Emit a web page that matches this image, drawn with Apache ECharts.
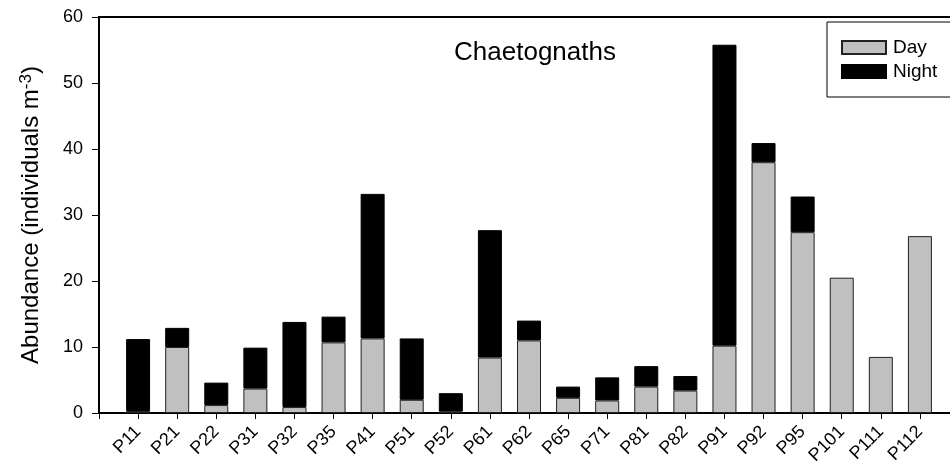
<!DOCTYPE html>
<html>
<head>
<meta charset="utf-8">
<script src="https://cdn.jsdelivr.net/npm/echarts@6/dist/echarts.min.js"></script>
<style>
html,body{margin:0;padding:0;background:#fff;}
#chart{width:950px;height:461px;}
</style>
</head>
<body>
<div id="chart"></div>
<script>
// Data
var categories = ['P11','P21','P22','P31','P32','P35','P41','P51','P52','P61','P62','P65','P71','P81','P82','P91','P92','P95','P101','P111','P112'];
var dayValues   = [0.3, 10.0, 1.2, 3.7, 0.9, 10.7, 11.3, 2.0, 0.2, 8.4, 11.0, 2.3, 1.9, 4.0, 3.4, 10.2, 38.0, 27.4, 20.5, 8.5, 26.8];
var nightValues = [10.9, 2.9, 3.4, 6.2, 12.9, 3.9, 21.9, 9.3, 2.8, 19.3, 3.0, 1.7, 3.5, 3.1, 2.2, 45.6, 2.9, 5.4, null, null, null];
var yTicks = [0, 10, 20, 30, 40, 50, 60];

var FONT = 'Liberation Sans, Arial, sans-serif';
var chart = echarts.init(document.getElementById('chart'), null, {renderer: 'canvas'});

// empty slots at both ends so categories sit at x = 1..21 of a 0..22 axis
var axisCats = [''].concat(categories, ['']);
function padded(arr) {
  return [null].concat(arr.map(function (v) { return v == null ? '-' : v; }), [null]);
}

var option = {
  animation: false,
  backgroundColor: '#fff',
  textStyle: {fontFamily: FONT},
  title: {
    text: 'Chaetognaths',
    left: 530, top: 35, textAlign: 'center',
    textStyle: {fontFamily: FONT, fontSize: 26, fontWeight: 'normal', color: '#000'}
  },
  legend: {
    orient: 'vertical',
    left: 827, top: 22,
    padding: [16, 60, 16, 14],
    itemWidth: 44, itemHeight: 13, itemGap: 5,
    icon: 'rect',
    borderColor: '#000', borderWidth: 1,
    textStyle: {fontFamily: FONT, fontSize: 19, lineHeight: 19, color: '#000', padding: [0, 0, 0, 2]},
    data: ['Day', 'Night']
  },
  grid: {
    left: 99, top: 17, width: 860, height: 396,
    outerBoundsMode: 'none',
    show: true, borderColor: '#000', borderWidth: 2, containLabel: false
  },
  xAxis: {
    type: 'category', data: axisCats, boundaryGap: false,
    splitLine: {show: false},
    axisLine: {lineStyle: {color: '#000', width: 2}},
    axisTick: {length: 6, interval: 0, lineStyle: {color: '#000', width: 1}},
    axisLabel: {
      rotate: 45, margin: 16, interval: 0, fontFamily: FONT, fontSize: 18, color: '#000'
    }
  },
  yAxis: {
    type: 'value', min: yTicks[0], max: yTicks[yTicks.length - 1], interval: 10,
    splitLine: {show: false},
    axisLine: {show: true, lineStyle: {color: '#000', width: 2}},
    axisTick: {show: true, length: 7, lineStyle: {color: '#000', width: 1}},
    axisLabel: {margin: 16, fontFamily: FONT, fontSize: 18, color: '#000'},
    name: 'Abundance (individuals m{sup|-3})',
    nameLocation: 'middle', nameGap: 54, nameRotate: 90,
    nameTextStyle: {
      fontFamily: FONT, fontSize: 24, color: '#000',
      rich: {sup: {fontFamily: FONT, fontSize: 17, color: '#000', verticalAlign: 'top', padding: [0,0,10,0]}}
    }
  },
  series: [
    {
      name: 'Day', type: 'bar', stack: 'tot', barWidth: 24,
      data: padded(dayValues),
      itemStyle: {color: '#c0c0c0', borderColor: '#222', borderWidth: 1}
    },
    {
      name: 'Night', type: 'bar', stack: 'tot', barWidth: 24,
      data: padded(nightValues),
      itemStyle: {color: '#000', borderColor: '#000', borderWidth: 1}
    }
  ]
};
chart.setOption(option);
</script>
</body>
</html>
